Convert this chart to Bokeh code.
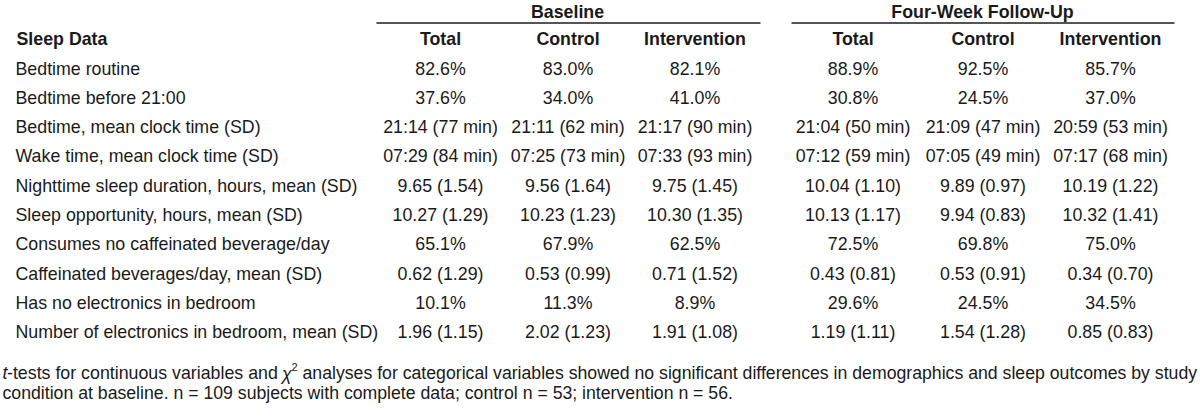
from bokeh.plotting import figure
from bokeh.models import Range1d, ColumnDataSource
from bokeh.core.properties import value
from bokeh.embed import file_html
from bokeh.resources import INLINE

# ---------------- data ----------------
row_labels = [
    "Bedtime routine",
    "Bedtime before 21:00",
    "Bedtime, mean clock time (SD)",
    "Wake time, mean clock time (SD)",
    "Nighttime sleep duration, hours, mean (SD)",
    "Sleep opportunity, hours, mean (SD)",
    "Consumes no caffeinated beverage/day",
    "Caffeinated beverages/day, mean (SD)",
    "Has no electronics in bedroom",
    "Number of electronics in bedroom, mean (SD)",
]
group_labels = ["Baseline", "Four-Week Follow-Up"]
arm_labels = ["Total", "Control", "Intervention"]
stub_header = "Sleep Data"

baseline_total = ["82.6%", "37.6%", "21:14 (77 min)", "07:29 (84 min)", "9.65 (1.54)",
                  "10.27 (1.29)", "65.1%", "0.62 (1.29)", "10.1%", "1.96 (1.15)"]
baseline_control = ["83.0%", "34.0%", "21:11 (62 min)", "07:25 (73 min)", "9.56 (1.64)",
                    "10.23 (1.23)", "67.9%", "0.53 (0.99)", "11.3%", "2.02 (1.23)"]
baseline_intervention = ["82.1%", "41.0%", "21:17 (90 min)", "07:33 (93 min)", "9.75 (1.45)",
                         "10.30 (1.35)", "62.5%", "0.71 (1.52)", "8.9%", "1.91 (1.08)"]
followup_total = ["88.9%", "30.8%", "21:04 (50 min)", "07:12 (59 min)", "10.04 (1.10)",
                  "10.13 (1.17)", "72.5%", "0.43 (0.81)", "29.6%", "1.19 (1.11)"]
followup_control = ["92.5%", "24.5%", "21:09 (47 min)", "07:05 (49 min)", "9.89 (0.97)",
                    "9.94 (0.83)", "69.8%", "0.53 (0.91)", "24.5%", "1.54 (1.28)"]
followup_intervention = ["85.7%", "37.0%", "20:59 (53 min)", "07:17 (68 min)", "10.19 (1.22)",
                         "10.32 (1.41)", "75.0%", "0.34 (0.70)", "34.5%", "0.85 (0.83)"]

note_t = "t"
note_a = "-tests for continuous variables and"
note_chi = "\u03c7"
note_sup = "2"
note_b = "analyses for categorical variables showed no significant differences in demographics and sleep outcomes by study"
note_line2 = "condition at baseline. n = 109 subjects with complete data; control n = 53; intervention n = 56."

columns = [baseline_total, baseline_control, baseline_intervention,
           followup_total, followup_control, followup_intervention]

# ---------------- layout / style ----------------
FONT = "Liberation Sans"
FS = "17.8px"
COLOR = "#1a1a1a"
col_x = [440, 567.5, 694.5, 852.5, 982.5, 1110]
group_x = [567, 982]
rule_x0 = [376, 791]
rule_x1 = [760, 1174]
rule_y = 22.5
group_y = 11
head_y = 38
row_y0 = 68
row_dy = 29.3
label_x = 15

p = figure(width=1200, height=418, x_range=Range1d(0, 1200), y_range=Range1d(418, 0),
           output_backend="svg", toolbar_location=None, min_border=0,
           min_border_left=0, min_border_right=0, min_border_top=0, min_border_bottom=0)
p.xaxis.visible = False
p.yaxis.visible = False
p.grid.visible = False
p.outline_line_color = None
p.background_fill_color = "white"
p.border_fill_color = "white"


def txt(xs, ys, texts, align="center", style="normal", size=FS):
    src = ColumnDataSource(dict(x=xs, y=ys, t=texts))
    p.text(x="x", y="y", text="t", source=src, text_font=value(FONT),
           text_font_size=size, text_font_style=style, text_align=align,
           text_baseline="middle", text_color=COLOR)


# group headers and rules
txt(group_x, [group_y] * 2, group_labels, style="bold")
p.segment(x0=rule_x0, y0=[rule_y] * 2, x1=rule_x1, y1=[rule_y] * 2,
          line_color="#555555", line_width=2)

# column headers
txt([label_x + 1], [head_y], [stub_header], align="left", style="bold")
txt(col_x, [head_y] * 6, arm_labels * 2, style="bold")

# body
ys = [row_y0 + i * row_dy for i in range(len(row_labels))]
txt([label_x] * len(row_labels), ys, row_labels, align="left")
for cx, vals in zip(col_x, columns):
    txt([cx] * len(vals), ys, vals)

# footnote (mixed styles), Arial/Liberation Sans advance widths per 1000 em
W = {" ": 278, "-": 333, ".": 278, ",": 278, ";": 278, "=": 584, "a": 556, "b": 556,
     "c": 500, "d": 556, "e": 556, "f": 278, "g": 556, "h": 556, "i": 222, "j": 222,
     "k": 500, "l": 222, "m": 833, "n": 556, "o": 556, "p": 556, "q": 556, "r": 333,
     "s": 500, "t": 278, "u": 556, "v": 500, "w": 722, "x": 500, "y": 500, "z": 500}


def units(s):
    return sum(W.get(c, 556) for c in s)


fy1 = 372
fy2 = 392
x_t = 2
x_a = 6.5
x_chi = 281.5
x_sup = 291
x_b = 302
right_edge = 1197
size_b = min(17.8, (right_edge - x_b) * 1000.0 / units(note_b))
txt([x_t], [fy1], [note_t], align="left", style="italic", size="17.8px")
txt([x_a], [fy1], [note_a], align="left", size="17.8px")
txt([x_chi], [fy1 + 1], [note_chi], align="left", style="italic", size="17.8px")
txt([x_sup], [fy1 - 6], [note_sup], align="left", size="11px")
txt([x_b], [fy1], [note_b], align="left", size=f"{size_b:.2f}px")
txt([x_t], [fy2], [note_line2], align="left", size=f"{size_b:.2f}px")

open("out.html", "w").write(file_html(p, INLINE))
